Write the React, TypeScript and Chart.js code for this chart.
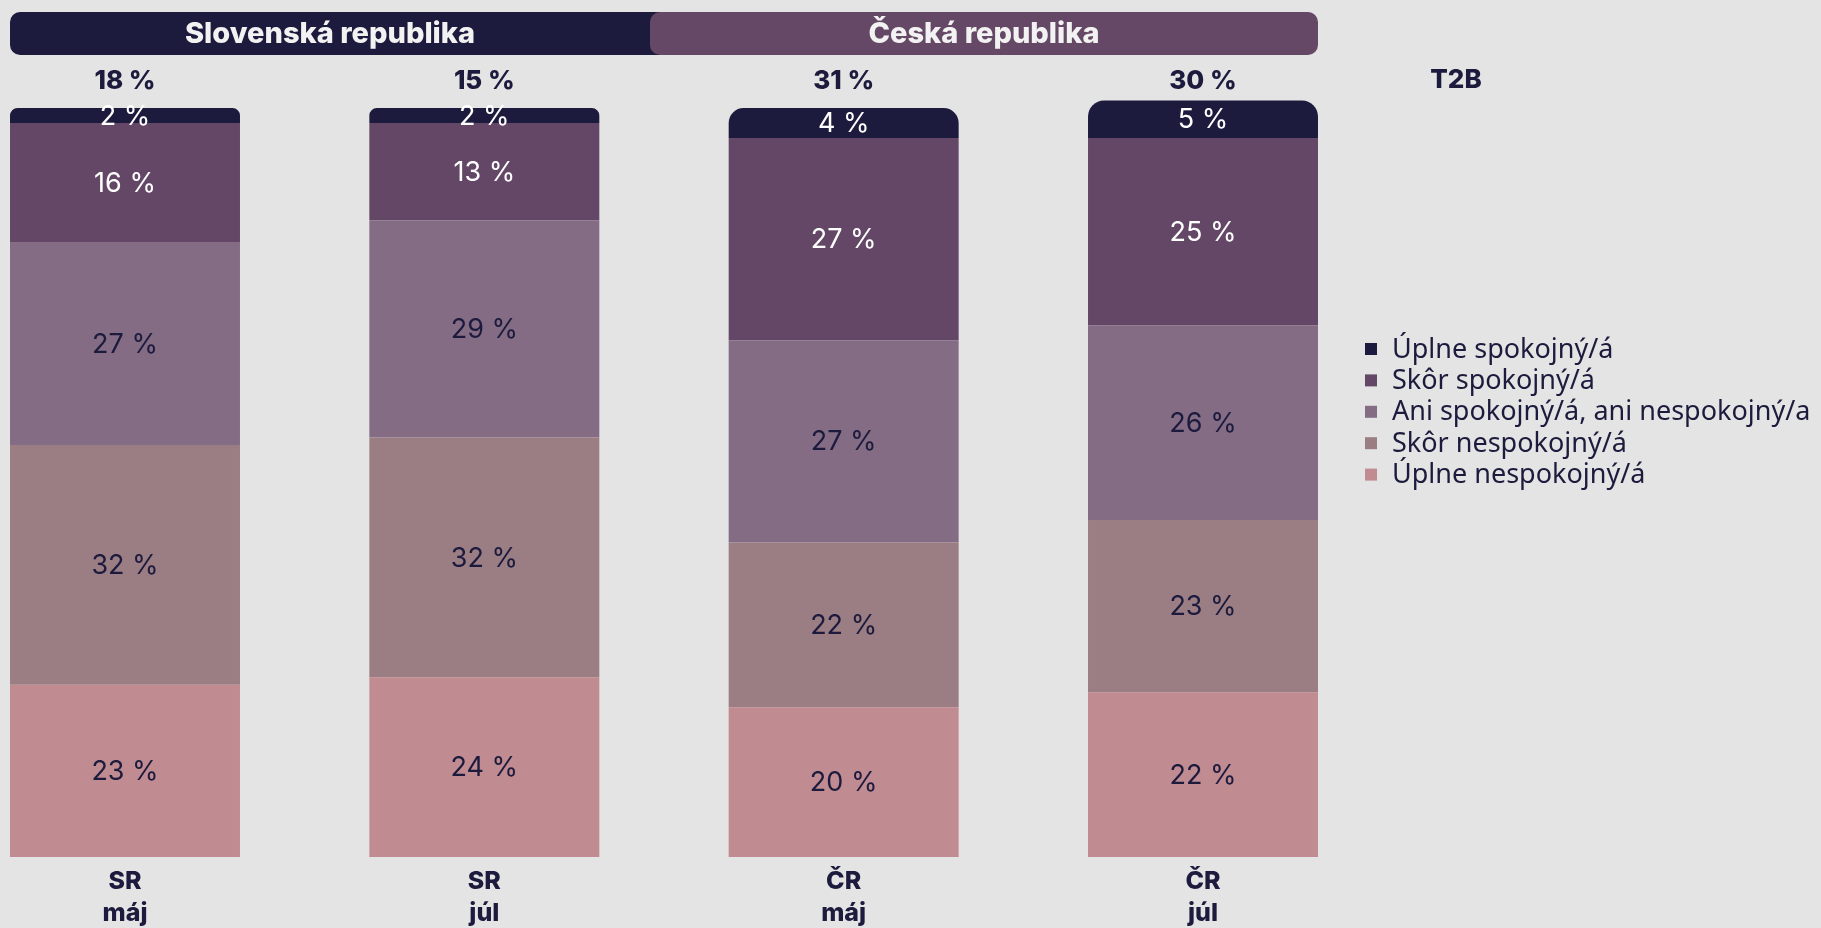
import React, { useEffect, useRef } from "react";
import { Chart, registerables } from "chart.js";

Chart.register(...registerables);

// ---- data ----
const categories: string[][] = [
  ["SR", "máj"],
  ["SR", "júl"],
  ["ČR", "máj"],
  ["ČR", "júl"],
];
const seriesNames = [
  "Úplne spokojný/á",
  "Skôr spokojný/á",
  "Ani spokojný/á, ani nespokojný/a",
  "Skôr nespokojný/á",
  "Úplne nespokojný/á",
];
const uplneSpokojny = [2, 2, 4, 5];
const skorSpokojny = [16, 13, 27, 25];
const aniAni = [27, 29, 27, 26];
const skorNespokojny = [32, 32, 22, 23];
const uplneNespokojny = [23, 24, 20, 22];
const groupLabels = ["Slovenská republika", "Česká republika"];
const t2bLabel = "T2B";

// ---- styles ----
const NAVY = "#1c1b3d";
const PURPLE = "#644766";
const colors = [NAVY, PURPLE, "#846c85", "#9b7d84", "#c08b91"];
const labelColors = ["#ffffff", "#ffffff", NAVY, NAVY, NAVY];
const BG = "#e4e4e4";

const seriesValues = [uplneSpokojny, skorSpokojny, aniAni, skorNespokojny, uplneNespokojny];

const overlayPlugin = {
  id: "overlay",
  afterDatasetsDraw(chart: any) {
    const ctx = chart.ctx as CanvasRenderingContext2D;
    ctx.save();
    chart.data.datasets.forEach((ds: any, di: number) => {
      const meta = chart.getDatasetMeta(di);
      const sIdx = ds.seriesIndex;
      meta.data.forEach((el: any, i: number) => {
        const v = ds.data[i];
        const cy = (el.y + el.base) / 2;
        ctx.font = "400 27px Inter";
        ctx.fillStyle = labelColors[sIdx];
        ctx.textAlign = "center";
        ctx.textBaseline = "middle";
        ctx.fillText(v + " %", el.x, cy + 1);
      });
    });
    ctx.restore();
  },
  afterDraw(chart: any) {
    const ctx = chart.ctx as CanvasRenderingContext2D;
    const xs = chart.scales.x;
    const meta = chart.getDatasetMeta(0);
    const bw = meta.data[0].width;
    ctx.save();
    // headers
    const left = xs.getPixelForValue(0) - bw / 2;
    const right = xs.getPixelForValue(3) + bw / 2;
    const split = (xs.getPixelForValue(1) + xs.getPixelForValue(2)) / 2 - 14;
    const top = 12;
    const h = 43;
    ctx.fillStyle = NAVY;
    ctx.beginPath();
    (ctx as any).roundRect(left, top, split + 20 - left, h, 10);
    ctx.fill();
    ctx.fillStyle = "#654866";
    ctx.beginPath();
    (ctx as any).roundRect(split, top, right - split, h, 10);
    ctx.fill();
    ctx.font = "800 29px Inter";
    ctx.fillStyle = "#f2f2f2";
    ctx.textAlign = "center";
    ctx.textBaseline = "middle";
    ctx.fillText(groupLabels[0], (left + split) / 2, top + h / 2 + 1);
    ctx.fillText(groupLabels[1], (split + right) / 2, top + h / 2 + 1);

    // T2B totals
    ctx.font = "800 26px Inter";
    ctx.fillStyle = NAVY;
    categories.forEach((_, i) => {
      const t = uplneSpokojny[i] + skorSpokojny[i];
      ctx.fillText(t + " %", xs.getPixelForValue(i), 81);
    });
    ctx.fillText(t2bLabel, 1456, 80);

    // legend
    ctx.font = "400 27px 'Noto Sans'";
    ctx.textAlign = "left";
    seriesNames.forEach((name, i) => {
      const y = 349 + i * 31.4;
      ctx.fillStyle = colors[i];
      ctx.fillRect(1365, y - 6, 12, 12);
      ctx.fillStyle = NAVY;
      ctx.fillText(name, 1392, y + 1);
    });
    ctx.restore();
  },
};

export default function App() {
  const ref = useRef<HTMLCanvasElement | null>(null);
  useEffect(() => {
    if (!ref.current) return;
    const order = [4, 3, 2, 1, 0];
    const datasets = order.map((s) => ({
      label: seriesNames[s],
      seriesIndex: s,
      data: seriesValues[s],
      backgroundColor: colors[s],
      borderWidth: 0,
      borderRadius: s === 0 ? { topLeft: 16, topRight: 16, bottomLeft: 0, bottomRight: 0 } : 0,
      borderSkipped: false as any,
      barPercentage: 0.64,
      categoryPercentage: 1,
      clip: false as any,
    }));
    const chart = new Chart(ref.current, {
      type: "bar",
      data: { labels: categories, datasets: datasets as any },
      options: {
        responsive: false,
        devicePixelRatio: 1,
        animation: false,
        layout: { padding: { left: 125, right: 618, top: 100.5, bottom: 0 } },
        plugins: { legend: { display: false }, tooltip: { enabled: false } },
        scales: {
          x: {
            stacked: true,
            offset: false,
            grid: { display: false },
            border: { display: false },
            afterFit: (s: any) => {
              s.height = 71;
            },
            ticks: {
              color: NAVY,
              padding: 0,
              autoSkip: false,
              maxRotation: 0,
              font: { family: "Inter", weight: "800", size: 25, lineHeight: 1.3 },
            },
          },
          y: {
            stacked: true,
            display: false,
            min: 0,
            max: 101,
          },
        },
      },
      plugins: [overlayPlugin],
    });
    return () => chart.destroy();
  }, []);
  return (
    <div style={{ position: "fixed", left: 0, top: 0, width: 1821, height: 928, background: BG }}>
      <canvas ref={ref} width={1821} height={928} style={{ display: "block", width: 1821, height: 928 }} />
    </div>
  );
}
